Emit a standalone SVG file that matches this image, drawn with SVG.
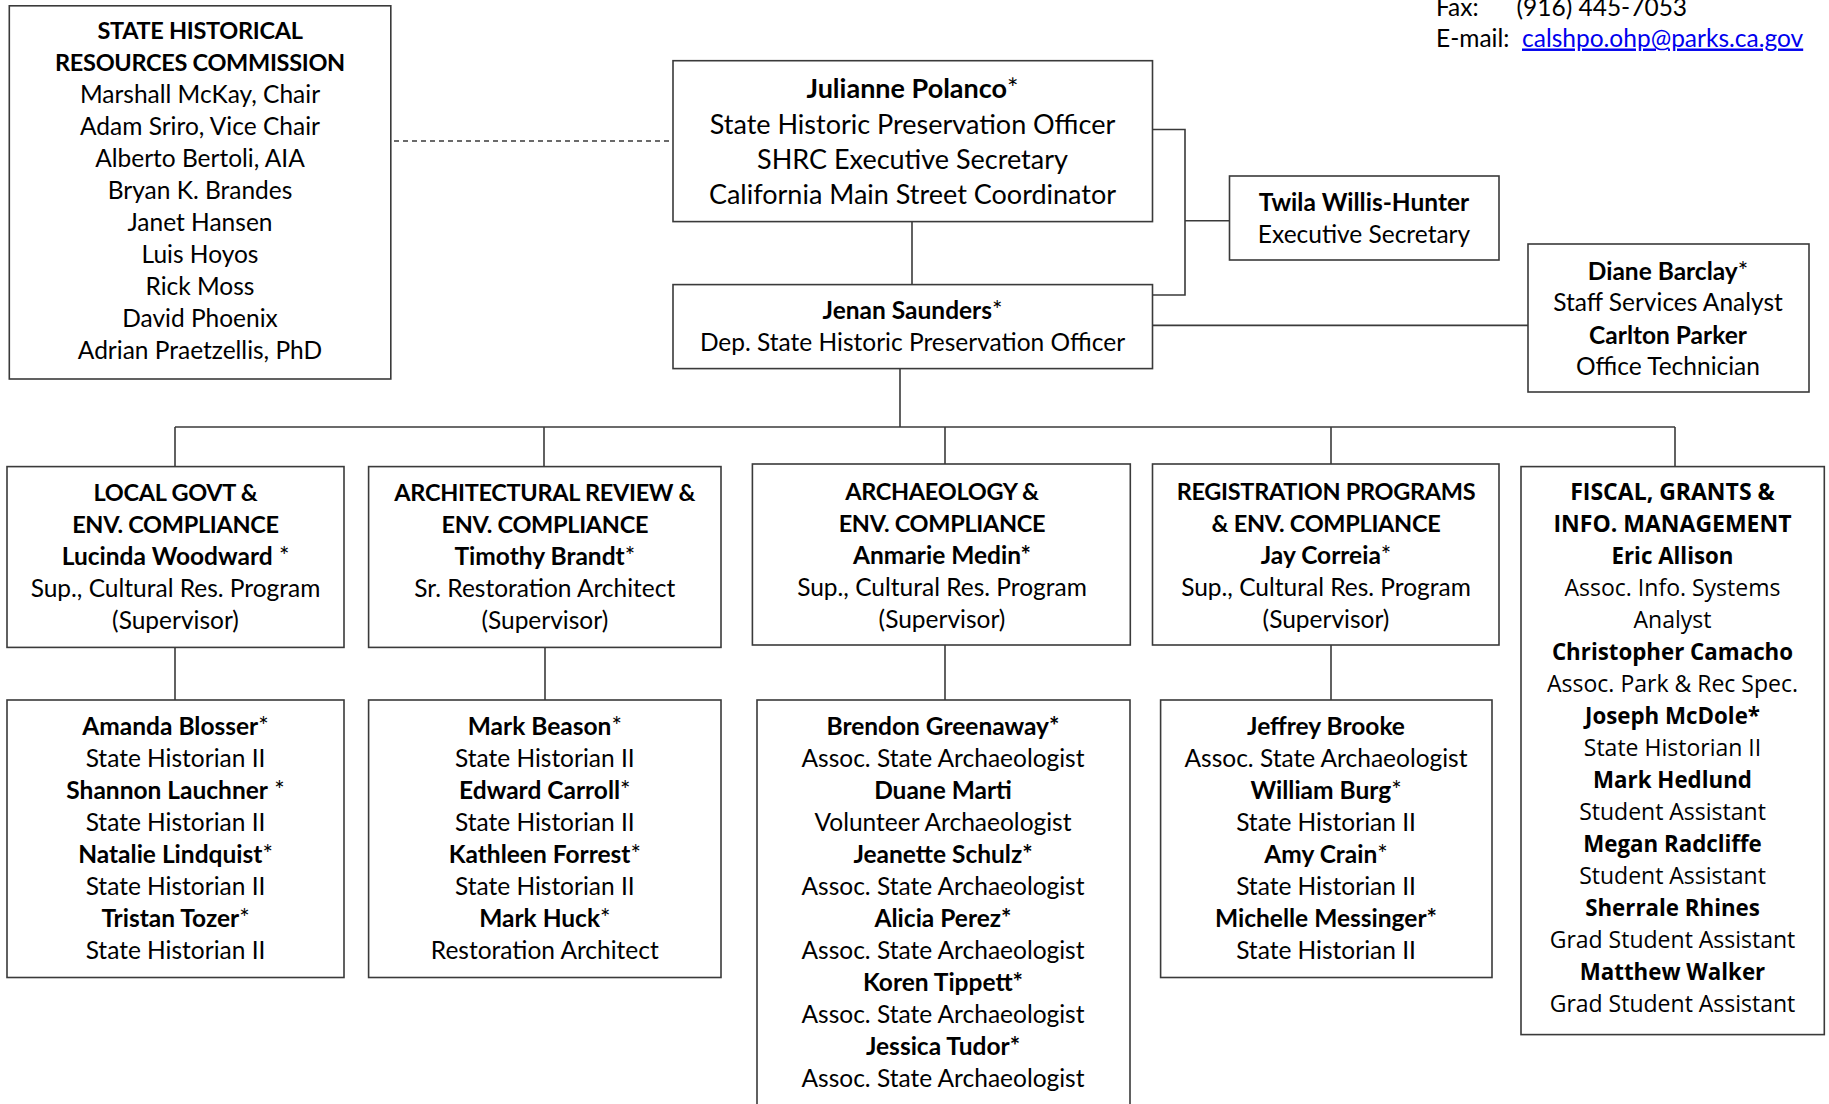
<svg xmlns="http://www.w3.org/2000/svg" width="1829" height="1104" viewBox="0 0 1829 1104">
<style>
.box{fill:#fff;stroke:#3a3a3a;stroke-width:1.6}
.ln{fill:none;stroke:#3a3a3a;stroke-width:1.6}
.dash{fill:none;stroke:#3a3a3a;stroke-width:1.4;stroke-dasharray:5 4}
text{font-family:Lato,"Liberation Sans",sans-serif;font-size:24.5px;fill:#000;text-anchor:middle}
.b{font-weight:bold}
.h{font-weight:bold;font-size:23.5px;letter-spacing:-0.3px}
.big{font-size:27px}
.f{font-family:"Open Sans","Noto Sans",sans-serif;font-size:23px}
.fb{font-family:"Open Sans","Noto Sans",sans-serif;font-size:22.3px;font-weight:bold}
.fh{font-family:"Open Sans","Noto Sans",sans-serif;font-size:23px;font-weight:bold}
.l{text-anchor:start}
.link{fill:#0000ee;text-decoration:underline}
</style>
<rect width="1829" height="1104" fill="#fff"/>
<g id="connectors">
<line class="dash" x1="385" y1="141" x2="673" y2="141"/>
<line class="ln" x1="912" y1="221.6" x2="912" y2="284.6"/>
<polyline class="ln" points="1152.5,129.5 1185,129.5 1185,295 1152.5,295"/>
<line class="ln" x1="1185" y1="220.7" x2="1229.5" y2="220.7"/>
<line class="ln" x1="1152.5" y1="325.4" x2="1528" y2="325.4"/>
<line class="ln" x1="900" y1="368.6" x2="900" y2="427"/>
<line class="ln" x1="175" y1="427" x2="1675" y2="427"/>
<line class="ln" x1="175" y1="427" x2="175" y2="466.6"/>
<line class="ln" x1="544" y1="427" x2="544" y2="466.6"/>
<line class="ln" x1="945" y1="427" x2="945" y2="464"/>
<line class="ln" x1="1331" y1="427" x2="1331" y2="464"/>
<line class="ln" x1="1675" y1="427" x2="1675" y2="466.6"/>
<line class="ln" x1="175" y1="647.4" x2="175" y2="700"/>
<line class="ln" x1="545" y1="647.4" x2="545" y2="700"/>
<line class="ln" x1="945" y1="645" x2="945" y2="700"/>
<line class="ln" x1="1331" y1="645" x2="1331" y2="700"/>
</g>
<g id="contact">
<text class="l" x="1436" y="16">Fax:</text>
<text class="l" x="1516.5" y="16">(916) 445-7053</text>
<text class="l" x="1436" y="46.5">E-mail:</text>
<text class="l link" x="1522" y="46.5">calshpo.ohp@parks.ca.gov</text>
</g>
<g id="shrc">
<rect class="box" x="9.3" y="5.8" width="381.5" height="373.2"/>
<text class="h" x="200" y="39">STATE HISTORICAL</text>
<text class="h" x="200" y="71">RESOURCES COMMISSION</text>
<text x="200" y="103">Marshall McKay, Chair</text>
<text x="200" y="135">Adam Sriro, Vice Chair</text>
<text x="200" y="167">Alberto Bertoli, AIA</text>
<text x="200" y="199">Bryan K. Brandes</text>
<text x="200" y="231">Janet Hansen</text>
<text x="200" y="263">Luis Hoyos</text>
<text x="200" y="295">Rick Moss</text>
<text x="200" y="327">David Phoenix</text>
<text x="200" y="359">Adrian Praetzellis, PhD</text>
</g>
<g id="polanco">
<rect class="box" x="673" y="60.7" width="479.5" height="160.9"/>
<text class="big" x="912.5" y="98"><tspan class="b">Julianne Polanco</tspan>*</text>
<text class="big" x="912.5" y="133.5">State Historic Preservation Officer</text>
<text class="big" x="912.5" y="169">SHRC Executive Secretary</text>
<text class="big" x="912.5" y="204">California Main Street Coordinator</text>
</g>
<g id="saunders">
<rect class="box" x="673" y="284.6" width="479.5" height="84"/>
<text x="912.5" y="319"><tspan class="b">Jenan Saunders</tspan>*</text>
<text x="912.5" y="351">Dep. State Historic Preservation Officer</text>
</g>
<g id="willis-hunter">
<rect class="box" x="1229.5" y="176" width="269.5" height="84"/>
<text class="b" x="1364" y="211">Twila Willis-Hunter</text>
<text x="1364" y="243">Executive Secretary</text>
</g>
<g id="barclay">
<rect class="box" x="1528" y="244" width="281" height="148"/>
<text x="1668" y="279.5"><tspan class="b">Diane Barclay</tspan>*</text>
<text x="1668" y="311">Staff Services Analyst</text>
<text class="b" x="1668" y="343.5">Carlton Parker</text>
<text x="1668" y="375">Office Technician</text>
</g>
<g id="local-govt">
<rect class="box" x="7" y="466.6" width="337" height="180.8"/>
<text class="h" x="175.5" y="501">LOCAL GOVT &amp;</text>
<text class="h" x="175.5" y="533">ENV. COMPLIANCE</text>
<text x="175.5" y="565"><tspan class="b">Lucinda Woodward</tspan> *</text>
<text x="175.5" y="597">Sup., Cultural Res. Program</text>
<text x="175.5" y="629">(Supervisor)</text>
</g>
<g id="arch-review">
<rect class="box" x="368.6" y="466.6" width="352.4" height="180.8"/>
<text class="h" x="544.8" y="501">ARCHITECTURAL REVIEW &amp;</text>
<text class="h" x="544.8" y="533">ENV. COMPLIANCE</text>
<text x="544.8" y="565"><tspan class="b">Timothy Brandt</tspan>*</text>
<text x="544.8" y="597">Sr. Restoration Architect</text>
<text x="544.8" y="629">(Supervisor)</text>
</g>
<g id="archaeology">
<rect class="box" x="752.4" y="464" width="377.9" height="181"/>
<text class="h" x="942" y="500">ARCHAEOLOGY &amp;</text>
<text class="h" x="942" y="532">ENV. COMPLIANCE</text>
<text class="b" x="942" y="564">Anmarie Medin*</text>
<text x="942" y="596">Sup., Cultural Res. Program</text>
<text x="942" y="628">(Supervisor)</text>
</g>
<g id="registration">
<rect class="box" x="1152.5" y="464" width="346.5" height="181"/>
<text class="h" x="1326" y="500">REGISTRATION PROGRAMS</text>
<text class="h" x="1326" y="532">&amp; ENV. COMPLIANCE</text>
<text x="1326" y="564"><tspan class="b">Jay Correia</tspan>*</text>
<text x="1326" y="596">Sup., Cultural Res. Program</text>
<text x="1326" y="628">(Supervisor)</text>
</g>
<g id="fiscal">
<rect class="box" x="1521" y="466.6" width="303.3" height="568"/>
<text class="fh" x="1672.5" y="500">FISCAL, GRANTS &amp;</text>
<text class="fh" x="1672.5" y="532">INFO. MANAGEMENT</text>
<text class="fb" x="1672.5" y="564">Eric Allison</text>
<text class="f" x="1672.5" y="596">Assoc. Info. Systems</text>
<text class="f" x="1672.5" y="628">Analyst</text>
<text class="fb" x="1672.5" y="660">Christopher Camacho</text>
<text class="f" x="1672.5" y="692">Assoc. Park &amp; Rec Spec.</text>
<text class="fb" x="1672.5" y="724">Joseph McDole*</text>
<text class="f" x="1672.5" y="756">State Historian II</text>
<text class="fb" x="1672.5" y="788">Mark Hedlund</text>
<text class="f" x="1672.5" y="820">Student Assistant</text>
<text class="fb" x="1672.5" y="852">Megan Radcliffe</text>
<text class="f" x="1672.5" y="884">Student Assistant</text>
<text class="fb" x="1672.5" y="916">Sherrale Rhines</text>
<text class="f" x="1672.5" y="948">Grad Student Assistant</text>
<text class="fb" x="1672.5" y="980">Matthew Walker</text>
<text class="f" x="1672.5" y="1012">Grad Student Assistant</text>
</g>
<g id="local-govt-staff">
<rect class="box" x="7" y="700" width="337" height="277.5"/>
<text x="175.5" y="734.5"><tspan class="b">Amanda Blosser</tspan>*</text>
<text x="175.5" y="766.5">State Historian II</text>
<text x="175.5" y="798.5"><tspan class="b">Shannon Lauchner</tspan> *</text>
<text x="175.5" y="830.5">State Historian II</text>
<text x="175.5" y="862.5"><tspan class="b">Natalie Lindquist</tspan>*</text>
<text x="175.5" y="894.5">State Historian II</text>
<text x="175.5" y="926.5"><tspan class="b">Tristan Tozer</tspan>*</text>
<text x="175.5" y="958.5">State Historian II</text>
</g>
<g id="arch-review-staff">
<rect class="box" x="368.6" y="700" width="352.4" height="277.5"/>
<text x="544.8" y="734.5"><tspan class="b">Mark Beason</tspan>*</text>
<text x="544.8" y="766.5">State Historian II</text>
<text x="544.8" y="798.5"><tspan class="b">Edward Carroll</tspan>*</text>
<text x="544.8" y="830.5">State Historian II</text>
<text x="544.8" y="862.5"><tspan class="b">Kathleen Forrest</tspan>*</text>
<text x="544.8" y="894.5">State Historian II</text>
<text x="544.8" y="926.5"><tspan class="b">Mark Huck</tspan>*</text>
<text x="544.8" y="958.5">Restoration Architect</text>
</g>
<g id="archaeology-staff">
<rect class="box" x="757" y="700" width="373" height="420"/>
<text class="b" x="943" y="734.5">Brendon Greenaway*</text>
<text x="943" y="766.5">Assoc. State Archaeologist</text>
<text class="b" x="943" y="798.5">Duane Marti</text>
<text x="943" y="830.5">Volunteer Archaeologist</text>
<text class="b" x="943" y="862.5">Jeanette Schulz*</text>
<text x="943" y="894.5">Assoc. State Archaeologist</text>
<text class="b" x="943" y="926.5">Alicia Perez*</text>
<text x="943" y="958.5">Assoc. State Archaeologist</text>
<text class="b" x="943" y="990.5">Koren Tippett*</text>
<text x="943" y="1022.5">Assoc. State Archaeologist</text>
<text class="b" x="943" y="1054.5">Jessica Tudor*</text>
<text x="943" y="1086.5">Assoc. State Archaeologist</text>
</g>
<g id="registration-staff">
<rect class="box" x="1160.6" y="700" width="331.4" height="277.5"/>
<text class="b" x="1326" y="734.5">Jeffrey Brooke</text>
<text x="1326" y="766.5">Assoc. State Archaeologist</text>
<text x="1326" y="798.5"><tspan class="b">William Burg</tspan>*</text>
<text x="1326" y="830.5">State Historian II</text>
<text x="1326" y="862.5"><tspan class="b">Amy Crain</tspan>*</text>
<text x="1326" y="894.5">State Historian II</text>
<text class="b" x="1326" y="926.5">Michelle Messinger*</text>
<text x="1326" y="958.5">State Historian II</text>
</g>
</svg>
